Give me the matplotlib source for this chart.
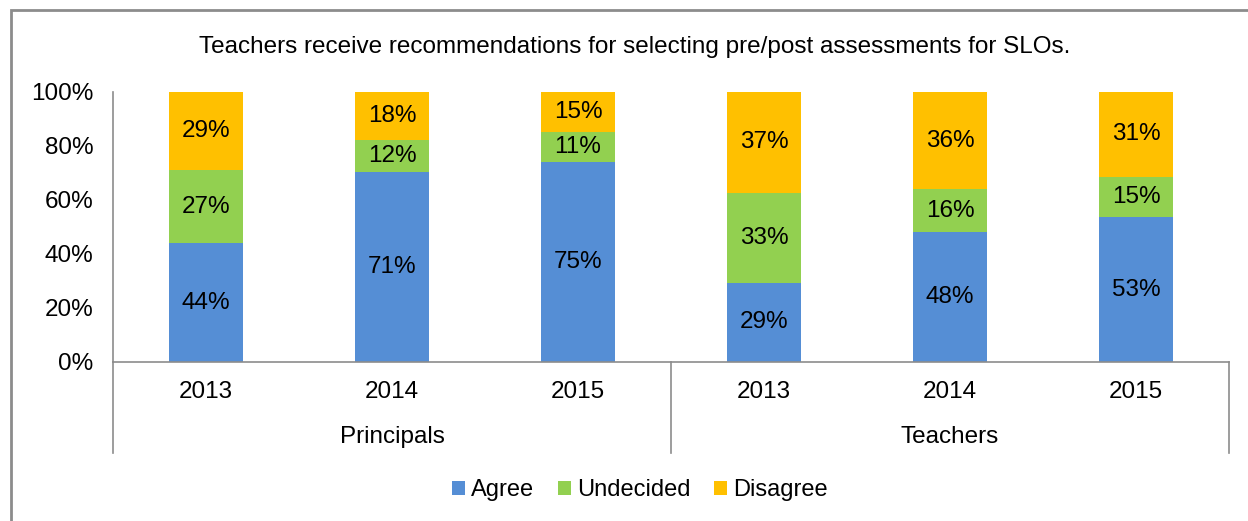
import numpy as np
import matplotlib.pyplot as plt
from matplotlib.patches import Rectangle
from matplotlib.lines import Line2D

plt.rcParams['font.family'] = ['Liberation Sans', 'DejaVu Sans']

years = ['2013', '2014', '2015', '2013', '2014', '2015']
groups = ['Principals', 'Teachers']
agree = [44, 71, 75, 29, 48, 53]
undecided = [27, 12, 11, 33, 16, 15]
disagree = [29, 18, 15, 37, 36, 31]
series = ['Agree', 'Undecided', 'Disagree']
colors = ['#558ED5', '#92D050', '#FFC000']
title = 'Teachers receive recommendations for selecting pre/post assessments for SLOs.'

W, H = 1248, 521
fs = 17.5
fig = plt.figure(figsize=(W / 100, H / 100), dpi=100)
ax = fig.add_axes([113 / W, 1 - 362 / H, (1229 - 113) / W, (362 - 92) / H])

vals = np.array([agree, undecided, disagree], dtype=float)
pct = vals / vals.sum(axis=0) * 100
x = np.arange(len(years))
bottom = np.zeros(len(years))
for i in range(3):
    ax.bar(x, pct[i], 0.4, bottom=bottom, color=colors[i], label=series[i])
    for j in range(len(years)):
        ax.text(x[j], bottom[j] + pct[i][j] / 2, f'{int(vals[i][j])}%',
                ha='center', va='center', fontsize=fs, color='black')
    bottom += pct[i]

ax.set_xlim(-0.5, 5.5)
ax.set_ylim(0, 100)
ax.set_yticks(range(0, 101, 20))
ax.set_yticklabels([f'{t}%' for t in range(0, 101, 20)], fontsize=fs)
ax.tick_params(axis='y', length=0, pad=14)
ax.set_xticks([])
for s in ['top', 'right']:
    ax.spines[s].set_visible(False)
for s in ['left', 'bottom']:
    ax.spines[s].set_color('#8c8c8c')
    ax.spines[s].set_linewidth(1.2)

# category labels under the axis
for j in range(len(years)):
    fig.text((113 + 186 * (j + 0.5)) / W, 1 - 392 / H, years[j],
             ha='center', va='center', fontsize=fs)
for g in range(2):
    fig.text((113 + 558 * (g + 0.5)) / W, 1 - 437 / H, groups[g],
             ha='center', va='center', fontsize=fs)
for px in [113, 671, 1229]:
    fig.add_artist(Line2D([px / W, px / W], [1 - 362 / H, 1 - 453 / H],
                          color='#8c8c8c', lw=1.2))

fig.text(635 / W, 1 - 47 / H, title, ha='center', va='center', fontsize=fs)

# outer frame
fig.add_artist(Rectangle((11 / W, -0.05), 1.1, 1 - 10 / H + 0.05, fill=False,
                         edgecolor='#8c8c8c', lw=2, transform=fig.transFigure))

fig.legend(loc='center', bbox_to_anchor=(640 / W, 1 - 490 / H), ncol=3,
           frameon=False, fontsize=17, handlelength=0.55, handleheight=0.55,
           handletextpad=0.25, columnspacing=1.0)

fig.savefig('out.png', dpi=100)
